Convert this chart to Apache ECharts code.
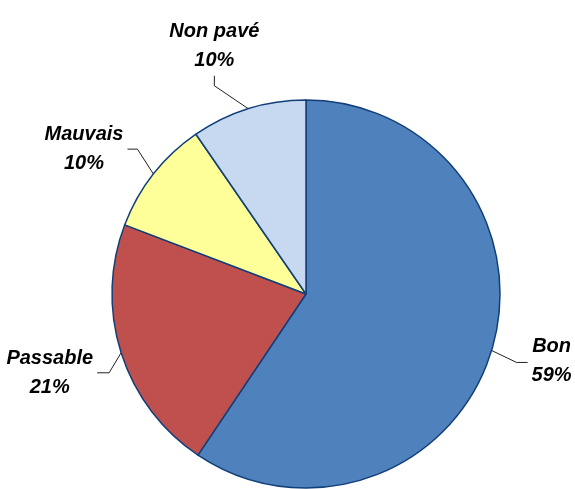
<!DOCTYPE html>
<html>
<head>
<meta charset="utf-8">
<script src="https://cdn.jsdelivr.net/npm/echarts@6/dist/echarts.min.js"></script>
<style>html,body{margin:0;padding:0;background:#fff}#c{width:575px;height:489px}</style>
</head>
<body>
<div id="c"></div>
<script>
const categories = ['Bon', 'Passable', 'Mauvais', 'Non pavé'];
const values = [59.4, 21.4, 9.6, 9.6];
const sliceColors = ['#4F81BD', '#C0504D', '#FFFF99', '#C6D9F0'];

// label line shape per slice: [first segment offset, second segment offset]
const lineShape = [
  [[25, 12], [11, 0]],
  [[-12, 20], [-12, 0]],
  [[-16, -25], [-10, 0]],
  [[-34, -23], [0, -10]]
];

const chart = echarts.init(document.getElementById('c'), null, {renderer: 'canvas'});
chart.setOption({
  backgroundColor: '#ffffff',
  animation: false,
  series: [{
    type: 'pie',
    center: [306, 294],
    radius: 194,
    startAngle: 90,
    clockwise: true,
    data: categories.map((c, i) => ({name: c, value: values[i], itemStyle: {color: sliceColors[i]}})),
    itemStyle: {borderColor: '#123f78', borderWidth: 1.5},
    label: {
      show: true,
      formatter: p => p.name + '\n' + Math.round(p.percent) + '%',
      fontFamily: 'Liberation Sans, Arial, sans-serif',
      fontWeight: 'bold',
      fontStyle: 'italic',
      fontSize: 20,
      lineHeight: 29,
      color: '#000',
      overflow: 'none',
      alignTo: 'none',
      bleedMargin: 0
    },
    labelLine: {show: true, lineStyle: {color: '#222', width: 1}},
    emphasis: {disabled: true}
  }]
});

chart.setOption({
  series: [{
    labelLayout: function (p) {
      const i = p.dataIndex;
      const p0 = p.labelLinePoints[0];
      const s = lineShape[i];
      const p1 = [p0[0] + s[0][0], p0[1] + s[0][1]];
      const p2 = [p1[0] + s[1][0], p1[1] + s[1][1]];
      const w = p.labelRect.width, h = p.labelRect.height;
      let x, y;
      if (s[1][1] < 0) { x = p2[0]; y = p2[1] - 1 - h / 2; }
      else if (s[1][0] > 0) { x = p2[0] + 4 + w / 2; y = p2[1] - 1; }
      else { x = p2[0] - 4 - w / 2; y = p2[1]; }
      return {x: x, y: y, align: 'center', verticalAlign: 'middle', labelLinePoints: [p0, p1, p2]};
    }
  }]
});
</script>
</body>
</html>
